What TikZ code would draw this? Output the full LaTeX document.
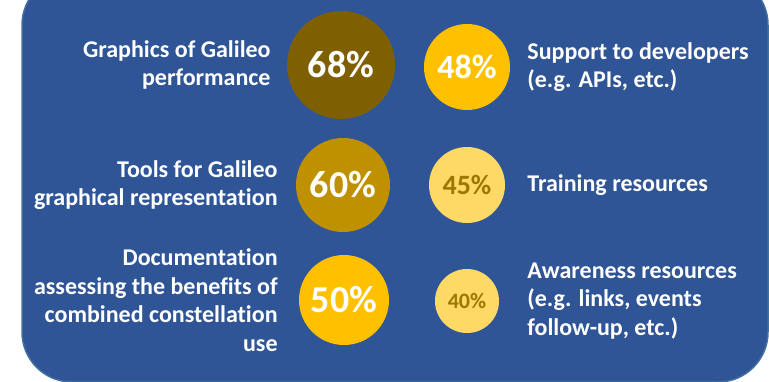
\documentclass[tikz,border=0pt]{standalone}
\usepackage{fontspec}
\setmainfont{Carlito}[Ligatures=NoCommon]
\usetikzlibrary{positioning}
\definecolor{panelblue}{HTML}{2F5597}
\definecolor{paneledge}{HTML}{41719C}
\definecolor{darkgold}{HTML}{7F6000}
\definecolor{midgold}{HTML}{BF9000}
\definecolor{gold}{HTML}{FFC000}
\definecolor{lightgold}{HTML}{FFD966}
\definecolor{goldtext}{HTML}{9C7800}
\begin{document}
\begin{tikzpicture}[x=1pt, y=-1pt,
        share/.style={circle, inner sep=0pt, font=\bfseries, text=white},
        topic/.style={font=\fontsize{24}{28.5}\selectfont\bfseries, text=white, inner sep=0pt}]
      \useasboundingbox (0,0) rectangle (769,381);
      \draw[fill=panelblue, draw=paneledge, line width=1.5pt, rounded corners=50pt]
        (22,-25) rectangle (768,382);
      % left column
      \node (c68) [share, fill=darkgold, minimum size=108pt, font=\fontsize{38}{38}\selectfont\bfseries] at (341,65) {68\%};
      \node (c60) [share, fill=midgold, minimum size=94pt, font=\fontsize{38}{38}\selectfont\bfseries] at (343,185) {60\%};
      \node (c50) [share, fill=gold, minimum size=90pt, font=\fontsize{38}{38}\selectfont\bfseries] at (344,300) {50\%};
      % right column
      \node (c48) [share, fill=gold, minimum size=86pt, font=\fontsize{34}{34}\selectfont\bfseries] at (467,67) {48\%};
      \node (c45) [share, fill=lightgold, minimum size=76pt, text=goldtext, font=\fontsize{28}{28}\selectfont\bfseries] at (467,185) {45\%};
      \node (c40) [share, fill=lightgold, minimum size=64pt, text=goldtext, font=\fontsize{22}{22}\selectfont\bfseries] at (467,301) {40\%};
      % texts
      \node (t68) [topic, align=right, left=16pt of c68] {Graphics of Galileo\\performance};
      \node (t60) [topic, align=right, left=18pt of c60] {Tools for Galileo\\graphical representation};
      \node (t50) [topic, align=right, left=21pt of c50] {Documentation\\assessing the benefits of\\combined constellation\\use};
      \node (t48) [topic, align=left, right=17pt of c48] {Support to developers\\(e.g. APIs, etc.)};
      \node (t45) [topic, align=left, right=22pt of c45] {Training resources};
      \node (t40) [topic, align=left, right=28pt of c40] {Awareness resources\\(e.g. links, events\\follow-up, etc.)};
    \end{tikzpicture}
\end{document}
